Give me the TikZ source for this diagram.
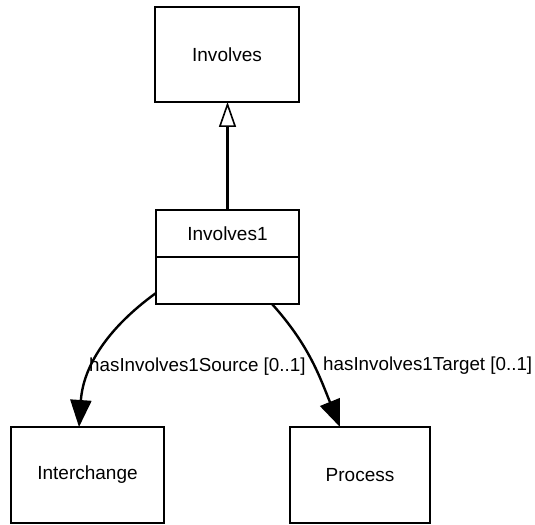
\documentclass[tikz,border=0pt]{standalone}
\usepackage{fontspec}
\setmainfont{Liberation Sans}
\usetikzlibrary{positioning,arrows.meta}

\tikzset{
  cls/.style={draw, line width=1.6bp, inner sep=0pt, outer sep=0pt,
    minimum width=144bp, minimum height=95bp,
    font=\fontsize{19bp}{23bp}\selectfont},
  part/.style={cls, minimum width=143bp, minimum height=47bp},
  lbl/.style={inner sep=0pt, anchor=west,
    font=\fontsize{18.8bp}{22bp}\selectfont},
  gen/.style={line width=2.4bp, -{Triangle[open, length=25bp, width=17bp, line width=1.6bp]}},
  assoc/.style={line width=2.4bp, -{Triangle[length=27bp, width=21bp]}}
}

\begin{document}
\begin{tikzpicture}[x=1bp, y=1bp]
    \useasboundingbox (0,0) rectangle (535,-525);

    % 1. Cac lop
    \node[cls] (inv) at (227,-54.5) {Involves};
    \node[part] (inv1) at (227.5,-233.5) {Involves1};
    \node[part, below=0pt of inv1] (inv1b) {};
    \node[cls, minimum width=153bp, minimum height=96bp] (inter) at (87.5,-475) {Interchange};
    \node[cls, minimum width=140bp, minimum height=96bp] (proc) at (360,-475) {Process};

    % 2. Ke thua
    \draw[gen] (inv1.north) -- (inv1.north |- inv.south);

    % 3. Lien ket
    \draw[assoc] ([yshift=11bp]inv1b.south west) to[out=216, in=86] ([xshift=-8.5bp]inter.north);
    \draw[assoc] ([xshift=44.5bp]inv1b.south) to[out=-48, in=112] ([xshift=-20bp]proc.north);

    % 4. Nhan
    \node[lbl] (srclbl) at (89,-367) {hasInvolves1Source [0..1]};
    \node[lbl] (tgtlbl) at (323,-366) {hasInvolves1Target [0..1]};
\end{tikzpicture}
\end{document}
